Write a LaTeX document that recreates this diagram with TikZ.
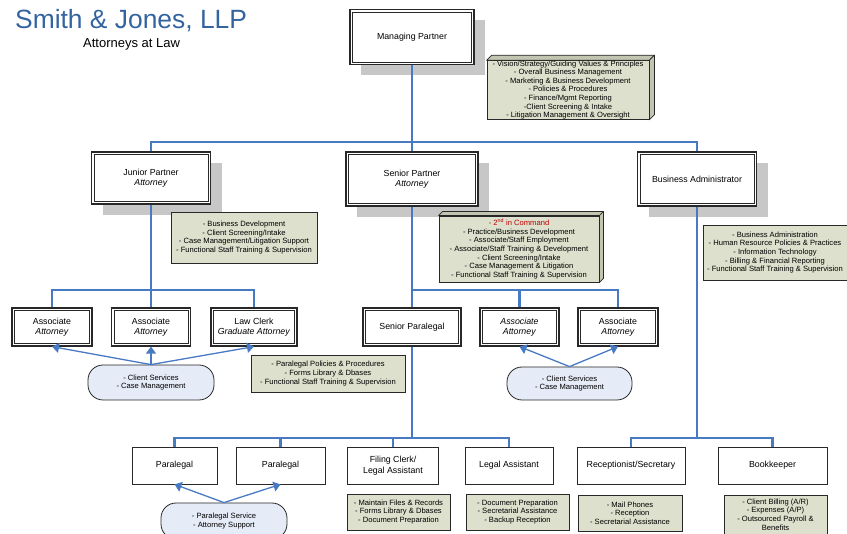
\documentclass[tikz,border=0pt]{standalone}
\usepackage{fontspec}
\setmainfont{Liberation Sans}
\usetikzlibrary{shadows,arrows.meta,calc}

\definecolor{linkblue}{RGB}{72,122,196}
\definecolor{notefill}{RGB}{221,224,204}
\definecolor{bevelfill}{RGB}{194,197,176}
\definecolor{pillfill}{RGB}{229,235,247}
\definecolor{titleblue}{RGB}{52,100,160}
\definecolor{edgegray}{RGB}{40,40,40}

\tikzset{
  role/.style={draw=edgegray, fill=white, line width=1.2pt, align=center,
    inner sep=0pt, font=\fontsize{8.8}{10.5}\selectfont,
    path picture={\draw[edgegray, line width=0.5pt]
      ([shift={(2.3pt,2.3pt)}]path picture bounding box.south west) rectangle
      ([shift={(-2.3pt,-2.3pt)}]path picture bounding box.north east);}},
  lead/.style={role, drop shadow={shadow xshift=11pt, shadow yshift=-11pt,
    fill=black!22, opacity=1}},
  staff/.style={draw=edgegray, fill=white, line width=0.7pt, align=center,
    inner sep=0pt, font=\fontsize{8.8}{10.5}\selectfont},
  note/.style={draw=edgegray, fill=notefill, line width=0.9pt, align=center,
    inner sep=0pt, font=\fontsize{7.6}{8.6}\selectfont},
  pill/.style={draw=edgegray, fill=pillfill, line width=0.8pt,
    rounded corners=15pt, align=center, inner sep=0pt,
    font=\fontsize{7.6}{8.8}\selectfont},
  bevel/.style={draw=edgegray, fill=bevelfill, line width=0.7pt, line join=round},
  bus/.style={draw=linkblue, line width=2.8pt},
  pointer/.style={draw=linkblue, line width=1.3pt,
    -{Triangle[length=7pt,width=10pt]}},
}

\begin{document}
\begin{tikzpicture}[x=1pt,y=-1pt]
\useasboundingbox (0,0) rectangle (847,534);
\clip (0,0) rectangle (847,534);

% firm heading
\node[anchor=base west, inner sep=0pt, text=titleblue,
  font=\fontsize{26.4}{30}\selectfont] (firm) at (15,29) {Smith \& Jones, LLP};
\node[anchor=base west, inner sep=0pt, font=\fontsize{13}{15}\selectfont]
  (tagline) at (83,48) {Attorneys at Law};

% partners and administrator
\node[lead, minimum width=124pt, minimum height=55pt] (mp) at (412,37) {Managing Partner};
\node[lead, minimum width=119pt, minimum height=52pt] (jp) at (151,178) {Junior Partner\\\textit{Attorney}};
\node[lead, minimum width=132pt, minimum height=54pt] (sp) at (412,179) {Senior Partner\\\textit{Attorney}};
\node[lead, minimum width=119pt, minimum height=54pt] (ba) at (697,179) {Business Administrator};

% duty notes of the top level
\node[note, minimum width=162pt, minimum height=56pt] (vision) at (568,90)
  {- Vision/Strategy/Guiding Values \& Principles\\- Overall Business Management\\
   - Marketing \& Business Development\\- Policies \& Procedures\\
   - Finance/Mgmt Reporting\\-Client Screening \& Intake\\
   - Litigation Management \& Oversight};
\node[note, minimum width=146pt, minimum height=51pt] (jpnote) at (244,237.5)
  {- Business Development\\- Client Screening/Intake\\
   - Case Management/Litigation Support\\- Functional Staff Training \& Supervision};
\node[note, minimum width=160pt, minimum height=66pt] (spnote) at (519,249)
  {{\color{red!75!black}- 2\textsuperscript{nd} in Command}\\- Practice/Business Development\\
   - Associate/Staff Employment\\- Associate/Staff Training \& Development\\
   - Client Screening/Intake\\- Case Management \& Litigation\\
   - Functional Staff Training \& Supervision};
\node[note, minimum width=144pt, minimum height=55pt] (banote) at (775,252.5)
  {- Business Administration\\- Human Resource Policies \& Practices\\
   - Information Technology\\- Billing \& Financial Reporting\\
   - Functional Staff Training \& Supervision};

% raised edges of the two bevelled notes
\foreach \n/\d in {vision/5, spnote/4}{
  \draw[bevel] (\n.north west) -- ++(\d,-\d) -- ($(\n.north east)+(\d,-\d)$)
    -- (\n.north east) -- cycle;
  \draw[bevel] (\n.north east) -- ($(\n.north east)+(\d,-\d)$)
    -- ($(\n.south east)+(\d,-\d)$) -- (\n.south east) -- cycle;
}

% attorneys and senior paralegal
\node[role, minimum width=80pt, minimum height=38pt] (a1) at (52,327) {Associate\\\textit{Attorney}};
\node[role, minimum width=79pt, minimum height=38pt] (a2) at (151,327) {Associate\\\textit{Attorney}};
\node[role, minimum width=86pt, minimum height=38pt] (lc) at (254,327) {Law Clerk\\\textit{Graduate Attorney}};
\node[role, minimum width=98pt, minimum height=38pt] (spar) at (412,327) {Senior Paralegal};
\node[role, minimum width=79pt, minimum height=38pt] (aa2) at (519.5,327) {\textit{Associate}\\\textit{Attorney}};
\node[role, minimum width=80pt, minimum height=38pt] (aa3) at (618,327) {Associate\\\textit{Attorney}};

\node[pill, minimum width=126pt, minimum height=35pt] (cs1) at (151,382.5) {- Client Services\\- Case Management};
\node[pill, minimum width=125pt, minimum height=33pt] (cs2) at (569.5,383.5) {- Client Services\\- Case Management};
\node[note, minimum width=154pt, minimum height=37pt] (ppnote) at (328,373.5)
  {- Paralegal Policies \& Procedures\\- Forms Library \& Dbases\\
   - Functional Staff Training \& Supervision};

% support staff
\node[staff, minimum width=85pt, minimum height=37pt] (p1) at (174.5,465.5) {Paralegal};
\node[staff, minimum width=89pt, minimum height=37pt] (p2) at (280.5,465.5) {Paralegal};
\node[staff, minimum width=91pt, minimum height=37pt] (fc) at (393,465.5) {Filing Clerk/\\Legal Assistant};
\node[staff, minimum width=88pt, minimum height=37pt] (la) at (509,465.5) {Legal Assistant};
\node[staff, minimum width=108pt, minimum height=37pt] (rec) at (631,465.5) {Receptionist/Secretary};
\node[staff, minimum width=109pt, minimum height=37pt] (book) at (772.5,465.5) {Bookkeeper};

\node[pill, minimum width=126pt, minimum height=36pt] (ps) at (224,521) {- Paralegal Service\\- Attorney Support};
\node[note, minimum width=103pt, minimum height=36pt] (fcnote) at (398.5,512)
  {- Maintain Files \& Records\\- Forms Library \& Dbases\\- Document Preparation};
\node[note, minimum width=103pt, minimum height=36pt] (lanote) at (517.5,512)
  {- Document Preparation\\- Secretarial Assistance\\- Backup Reception};
\node[note, minimum width=104pt, minimum height=36pt] (recnote) at (630,513)
  {- Mail Phones\\- Reception\\- Secretarial Assistance};
\node[note, minimum width=103pt, minimum height=39pt] (booknote) at (775.5,514.5)
  {- Client Billing (A/R)\\- Expenses (A/P)\\- Outsourced Payroll \&\\Benefits};

% reporting lines
\coordinate (topbus) at (412,142);
\coordinate (jbus) at (151,290);
\coordinate (sbus) at (412,290);
\coordinate (pbus) at (412,438);
\coordinate (bbus) at (697,438);

\draw[bus] (mp.south) -- (topbus);
\draw[bus] (jp.north) |- (topbus) -| (ba.north);
\draw[bus] (topbus) -- (sp.north);

\draw[bus] (jp.south) -- (jbus);
\draw[bus] (a1.north) |- (jbus) -| (lc.north);
\draw[bus] (jbus) -- (a2.north);

\draw[bus] (sp.south) -- (sbus);
\draw[bus] (spar.north) |- (sbus) -| (aa3.north);
\draw[bus] (aa2.north) |- (sbus);

\draw[bus] (spar.south) -- (pbus);
\draw[bus] (p1.north) |- (pbus) -| (la.north);
\draw[bus] (p2.north) |- (pbus);
\draw[bus] (fc.north) |- (pbus);

\draw[bus] (ba.south) -- (bbus);
\draw[bus] (rec.north) |- (bbus) -| (book.north);

% shared services
\draw[pointer] (cs1.north) -- (a1.south);
\draw[pointer] (cs1.north) -- (a2.south);
\draw[pointer] (cs1.north) -- (lc.south);
\draw[pointer] (cs2.north) -- (aa2.south);
\draw[pointer] (cs2.north) -- (aa3.south);
\draw[pointer] (ps.north) -- (p1.south);
\draw[pointer] (ps.north) -- (p2.south);
\end{tikzpicture}
\end{document}
